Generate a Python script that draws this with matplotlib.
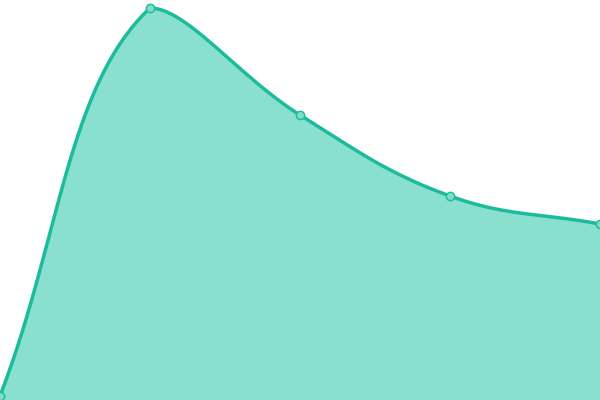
import numpy as np
import matplotlib.pyplot as plt

# chart data
labels = ['A', 'B', 'C', 'D', 'E']
values = [4, 392, 285, 204, 176]
y_min, y_max = 0, 400

line_color = '#1abc9c'
fill_color = '#89e0cf'
tension = 0.4


def spline_points(xs, ys, t, lo, hi):
    # cubic bezier control points, Chart.js style, with capping
    n = len(xs)
    pts = []
    for i in range(n):
        px, py = (xs[i - 1], ys[i - 1]) if i > 0 else (xs[i], ys[i])
        nx, ny = (xs[i + 1], ys[i + 1]) if i < n - 1 else (xs[i], ys[i])
        cx, cy = xs[i], ys[i]
        d01 = np.hypot(cx - px, cy - py)
        d12 = np.hypot(nx - cx, ny - cy)
        s = d01 + d12
        fa = t * d01 / s if s else 0
        fb = t * d12 / s if s else 0
        c0 = (cx - fa * (nx - px), cy - fa * (ny - py))
        c1 = (cx + fb * (nx - px), cy + fb * (ny - py))
        c0 = (min(max(c0[0], xs[0]), xs[-1]), min(max(c0[1], lo), hi))
        c1 = (min(max(c1[0], xs[0]), xs[-1]), min(max(c1[1], lo), hi))
        pts.append((c0, c1))
    cx_all, cy_all = [], []
    tt = np.linspace(0, 1, 60)
    for i in range(n - 1):
        p0 = np.array([xs[i], ys[i]])
        p1 = np.array(pts[i][1])
        p2 = np.array(pts[i + 1][0])
        p3 = np.array([xs[i + 1], ys[i + 1]])
        b = ((1 - tt) ** 3)[:, None] * p0 + (3 * (1 - tt) ** 2 * tt)[:, None] * p1 \
            + (3 * (1 - tt) * tt ** 2)[:, None] * p2 + (tt ** 3)[:, None] * p3
        cx_all.extend(b[:, 0])
        cy_all.extend(b[:, 1])
    return np.array(cx_all), np.array(cy_all)


x = np.arange(len(labels)) * 150.0
cx, cy = spline_points(x, values, tension, min(values), max(values))

fig = plt.figure(figsize=(6, 4), dpi=100)
ax = fig.add_axes([0, 0, 1, 1])
ax.fill_between(cx, cy, y_min, color=fill_color, lw=0)
ax.plot(cx, cy, color=line_color, lw=2.5, solid_capstyle='round')
ax.plot(x, values, 'o', ms=6, mfc='#7fdcc8', mec=line_color, mew=1, clip_on=True)
ax.set_xlim(x[0], x[-1])
ax.set_ylim(y_min, y_max)
ax.axis('off')
fig.savefig('out.png', dpi=100)
